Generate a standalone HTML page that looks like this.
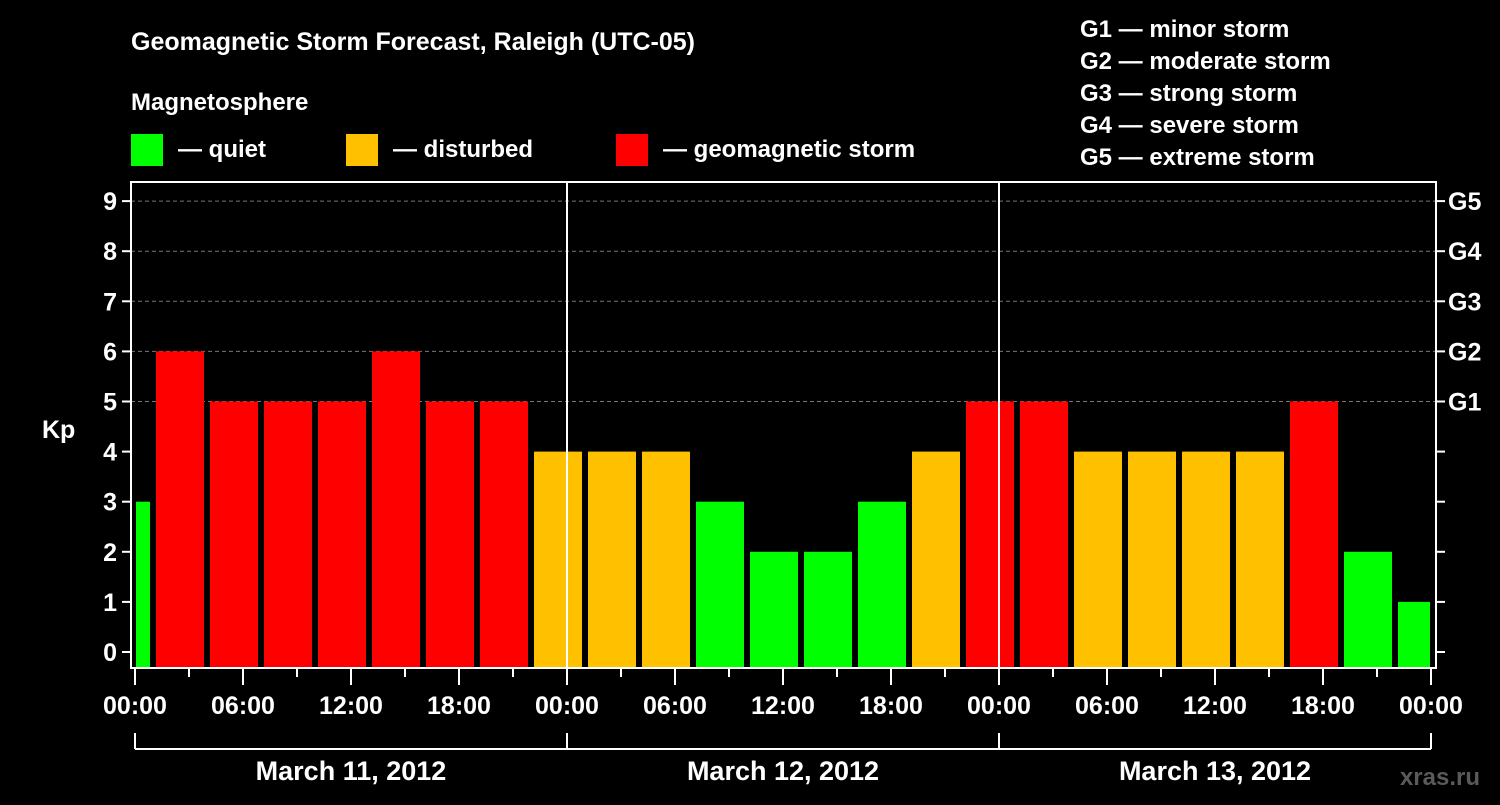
<!DOCTYPE html>
<html><head><meta charset="utf-8"><style>
body{margin:0;background:#000;width:1500px;height:800px;overflow:hidden;font-family:"Liberation Sans",sans-serif;}
svg text{font-family:"Liberation Sans",sans-serif;font-weight:bold;fill:#fff;}
</style></head><body>
<svg id="c" width="1500" height="800">
<text x="131" y="50" font-size="25">Geomagnetic Storm Forecast, Raleigh (UTC-05)</text>
<text x="131" y="110" font-size="24">Magnetosphere</text>
<rect x="131" y="134" width="32" height="32" fill="#00ff00"/>
<text x="178" y="157" font-size="24">— quiet</text>
<rect x="346" y="134" width="32" height="32" fill="#ffc000"/>
<text x="393" y="157" font-size="24">— disturbed</text>
<rect x="616" y="134" width="32" height="32" fill="#ff0000"/>
<text x="663" y="157" font-size="24">— geomagnetic storm</text>
<g font-size="24">
<text x="1080" y="37">G1 — minor storm</text>
<text x="1080" y="69">G2 — moderate storm</text>
<text x="1080" y="101">G3 — strong storm</text>
<text x="1080" y="133">G4 — severe storm</text>
<text x="1080" y="165">G5 — extreme storm</text>
</g>
<text x="42" y="438" font-size="25">Kp</text>
<text x="1480" y="785" font-size="24" fill="#555" style="fill:#5a5a5a" text-anchor="end">xras.ru</text>
<g id="plot"></g>
</svg>
<script>
const kpValues=[3,6,5,5,5,6,5,5,4,4,4,3,2,2,3,4,5,5,4,4,4,4,5,2,1];
const yTicks=[0,1,2,3,4,5,6,7,8,9];
const gLabels=["G1","G2","G3","G4","G5"];
const xTickLabels=["00:00","06:00","12:00","18:00","00:00","06:00","12:00","18:00","00:00","06:00","12:00","18:00","00:00"];
const dayLabels=["March 11, 2012","March 12, 2012","March 13, 2012"];
const NS="http://www.w3.org/2000/svg";
const g=document.getElementById('plot');
const L=131,R=1436,T=182,B=668,X0=135,HPX=18;
const xh=h=>X0+h*HPX;
const y=v=>652-v*50.1;
function mk(tag,a){const e=document.createElementNS(NS,tag);for(const k in a)e.setAttribute(k,a[k]);g.appendChild(e);return e;}
// grid
for(let i=0;i<gLabels.length;i++){
 const v=5+i;
 const l=mk('line',{x1:L,x2:R,y1:y(v),y2:y(v),stroke:'#777','stroke-dasharray':'4,3'});
 
 
 const t=mk('text',{x:1448,y:y(v)+9,'font-size':25});
 t.textContent=gLabels[i];
 
 
}
// bars
const colorOf=v=>v>=5?'#ff0000':(v>=4?'#ffc000':'#00ff00');
kpValues.forEach((v,k)=>{
 const c=xh(-0.5+3*k);
 let x1=Math.max(c-24,L+5),x2=Math.min(c+24,R-6);
 const r=mk('rect',{x:x1,y:y(v),width:x2-x1,height:667-y(v),fill:colorOf(v)});
 
 
});
// day dividers
[1,2].forEach(d=>{
 const l=mk('line',{x1:xh(24*d),x2:xh(24*d),y1:T,y2:B,stroke:'#fff','stroke-width':2});
 
 
});
// frame
const f=mk('rect',{x:L,y:T,width:R-L,height:B-T,fill:'none',stroke:'#fff','stroke-width':2});


// y ticks
yTicks.forEach(v=>{
 mk('line',{x1:L-9,x2:L,y1:y(v),y2:y(v),stroke:'#fff','stroke-width':2});
 mk('line',{x1:R,x2:R+9,y1:y(v),y2:y(v),stroke:'#fff','stroke-width':2});
 const t=mk('text',{x:117,y:y(v)+9,'font-size':25,'text-anchor':'end'});
 t.textContent=v;
 
 
});
// x ticks
for(let h=0;h<=72;h+=3){
 const major=h%6===0;
 mk('line',{x1:xh(h),x2:xh(h),y1:B,y2:B+(major?17:9),stroke:'#fff','stroke-width':2});
}
xTickLabels.forEach((s,i)=>{
 const t=mk('text',{x:xh(6*i),y:714,'font-size':25,'text-anchor':'middle'});
 t.textContent=s;
 
 
});
// date bracket
mk('line',{x1:X0,x2:xh(72),y1:749,y2:749,stroke:'#fff','stroke-width':2});
for(let d=0;d<=3;d++)mk('line',{x1:xh(24*d),x2:xh(24*d),y1:733,y2:749,stroke:'#fff','stroke-width':2});
dayLabels.forEach((s,i)=>{
 const t=mk('text',{x:xh(24*i+12),y:780,'font-size':27,'text-anchor':'middle'});
 t.textContent=s;
 
 
});
</script>
</body></html>
